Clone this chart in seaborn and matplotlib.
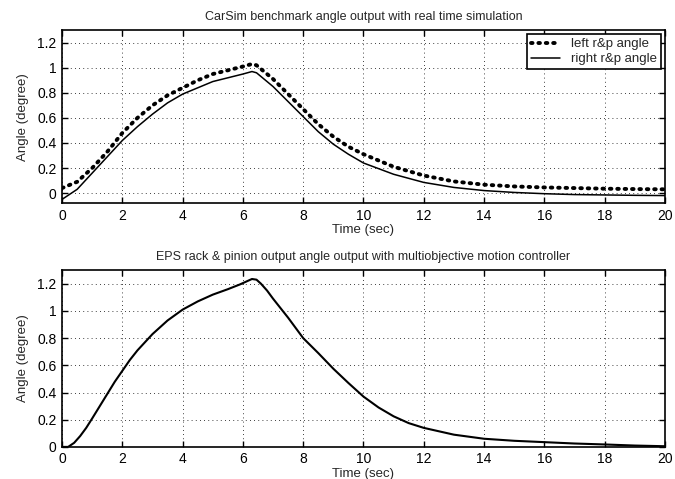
import numpy as np
import pandas as pd
import matplotlib
matplotlib.use("Agg")
import matplotlib.pyplot as plt
import seaborn as sns

# ---- data ----
t_top = [0, 0.5, 1, 1.5, 2, 2.5, 3, 3.5, 4, 4.5, 5, 5.5, 6, 6.15, 6.3, 6.45, 6.6,
         6.8, 7, 7.25, 7.5, 7.75, 8, 8.5, 9, 9.5, 10, 11, 12, 13, 14, 15, 16, 17,
         18, 19, 20]
left_rp = [0.04, 0.09, 0.20, 0.33, 0.48, 0.60, 0.70, 0.78, 0.84, 0.90, 0.95, 0.98,
           1.01, 1.02, 1.03, 1.02, 0.99, 0.95, 0.91, 0.85, 0.79, 0.73, 0.67, 0.55,
           0.45, 0.37, 0.31, 0.21, 0.14, 0.093, 0.067, 0.053, 0.045, 0.04, 0.035,
           0.032, 0.03]
right_rp = [-0.05, 0.03, 0.16, 0.29, 0.42, 0.53, 0.63, 0.72, 0.79, 0.84, 0.89, 0.92,
            0.95, 0.96, 0.97, 0.96, 0.93, 0.89, 0.85, 0.79, 0.73, 0.67, 0.61, 0.49,
            0.39, 0.31, 0.24, 0.15, 0.085, 0.045, 0.02, 0.005, -0.005, -0.012,
            -0.015, -0.018, -0.02]

t_bot = [0, 0.2, 0.4, 0.6, 0.8, 1.0, 1.25, 1.5, 1.75, 2.0, 2.25, 2.5, 2.75, 3.0,
         3.5, 4.0, 4.5, 5.0, 5.5, 5.9, 6.15, 6.3, 6.45, 6.6, 6.8, 7.0, 7.25, 7.5,
         7.75, 8.0, 8.5, 9, 9.5, 10, 10.5, 11, 11.5, 12, 13, 14, 15, 16, 17, 18,
         19, 20]
eps_angle = [0.0, 0.0, 0.03, 0.08, 0.14, 0.21, 0.30, 0.39, 0.48, 0.56, 0.64, 0.71,
             0.77, 0.83, 0.93, 1.01, 1.07, 1.12, 1.16, 1.195, 1.22, 1.235, 1.23,
             1.20, 1.15, 1.09, 1.02, 0.95, 0.875, 0.80, 0.69, 0.575, 0.47, 0.37,
             0.29, 0.225, 0.175, 0.14, 0.09, 0.06, 0.045, 0.035, 0.025, 0.018,
             0.01, 0.005]

title_top = "CarSim benchmark angle output with real time simulation"
title_bot = "EPS rack & pinion output angle output with multiobjective motion controller"
xlabel = "Time (sec)"
ylabel = "Angle (degree)"
legend_labels = ["left r&p angle", "right r&p angle"]
xticks = list(range(0, 21, 2))
yticks = [0, 0.2, 0.4, 0.6, 0.8, 1.0, 1.2]
yticklabels = ["0", "0.2", "0.4", "0.6", "0.8", "1", "1.2"]

sns.set_style("ticks")
plt.rcParams["font.family"] = ["Liberation Sans", "DejaVu Sans"]
plt.rcParams["font.size"] = 8

fig = plt.figure(figsize=(6.75, 4.79), dpi=100)
ax1 = fig.add_axes([0.092, 0.576, 0.893, 0.361])
ax2 = fig.add_axes([0.092, 0.067, 0.893, 0.369])

df_top = pd.DataFrame({"t": t_top, "left": left_rp, "right": right_rp})
df_bot = pd.DataFrame({"t": t_bot, "eps": eps_angle})

sns.lineplot(data=df_top, x="t", y="left", ax=ax1, color="black", lw=2.8,
             linestyle=(0, (0.4, 1.5)), dash_capstyle="round", label=legend_labels[0])
sns.lineplot(data=df_top, x="t", y="right", ax=ax1, color="black", lw=1.1,
             label=legend_labels[1])
sns.lineplot(data=df_bot, x="t", y="eps", ax=ax2, color="black", lw=1.5, legend=False)

def style(ax, ylim, title):
    ax.set_xlim(0, 20)
    ax.set_ylim(*ylim)
    ax.set_xticks(xticks)
    ax.set_yticks(yticks)
    ax.set_yticklabels(yticklabels)
    ax.grid(True, color="black", linestyle=(0, (1, 4)), lw=0.6)
    ax.tick_params(direction="in", top=True, right=True, length=4, width=1,
                   labelsize=10, colors="black", pad=4)
    for s in ax.spines.values():
        s.set_visible(True)
        s.set_color("black")
        s.set_linewidth(1.2)
    ax.set_xlabel(xlabel, fontsize=9.5, labelpad=1)
    ax.set_ylabel(ylabel, fontsize=9.5, labelpad=6)
    ax.set_title(title, fontsize=9, pad=7)

style(ax1, (-0.08, 1.3), title_top)
style(ax2, (0, 1.3), title_bot)

leg = ax1.legend(loc="upper right", fontsize=9.5, frameon=True, fancybox=False,
                 edgecolor="black", framealpha=1, borderpad=0.3, handlelength=2.2,
                 labelspacing=0.2, borderaxespad=0.3)
leg.get_frame().set_linewidth(1.2)

fig.savefig("out.png", dpi=100)
